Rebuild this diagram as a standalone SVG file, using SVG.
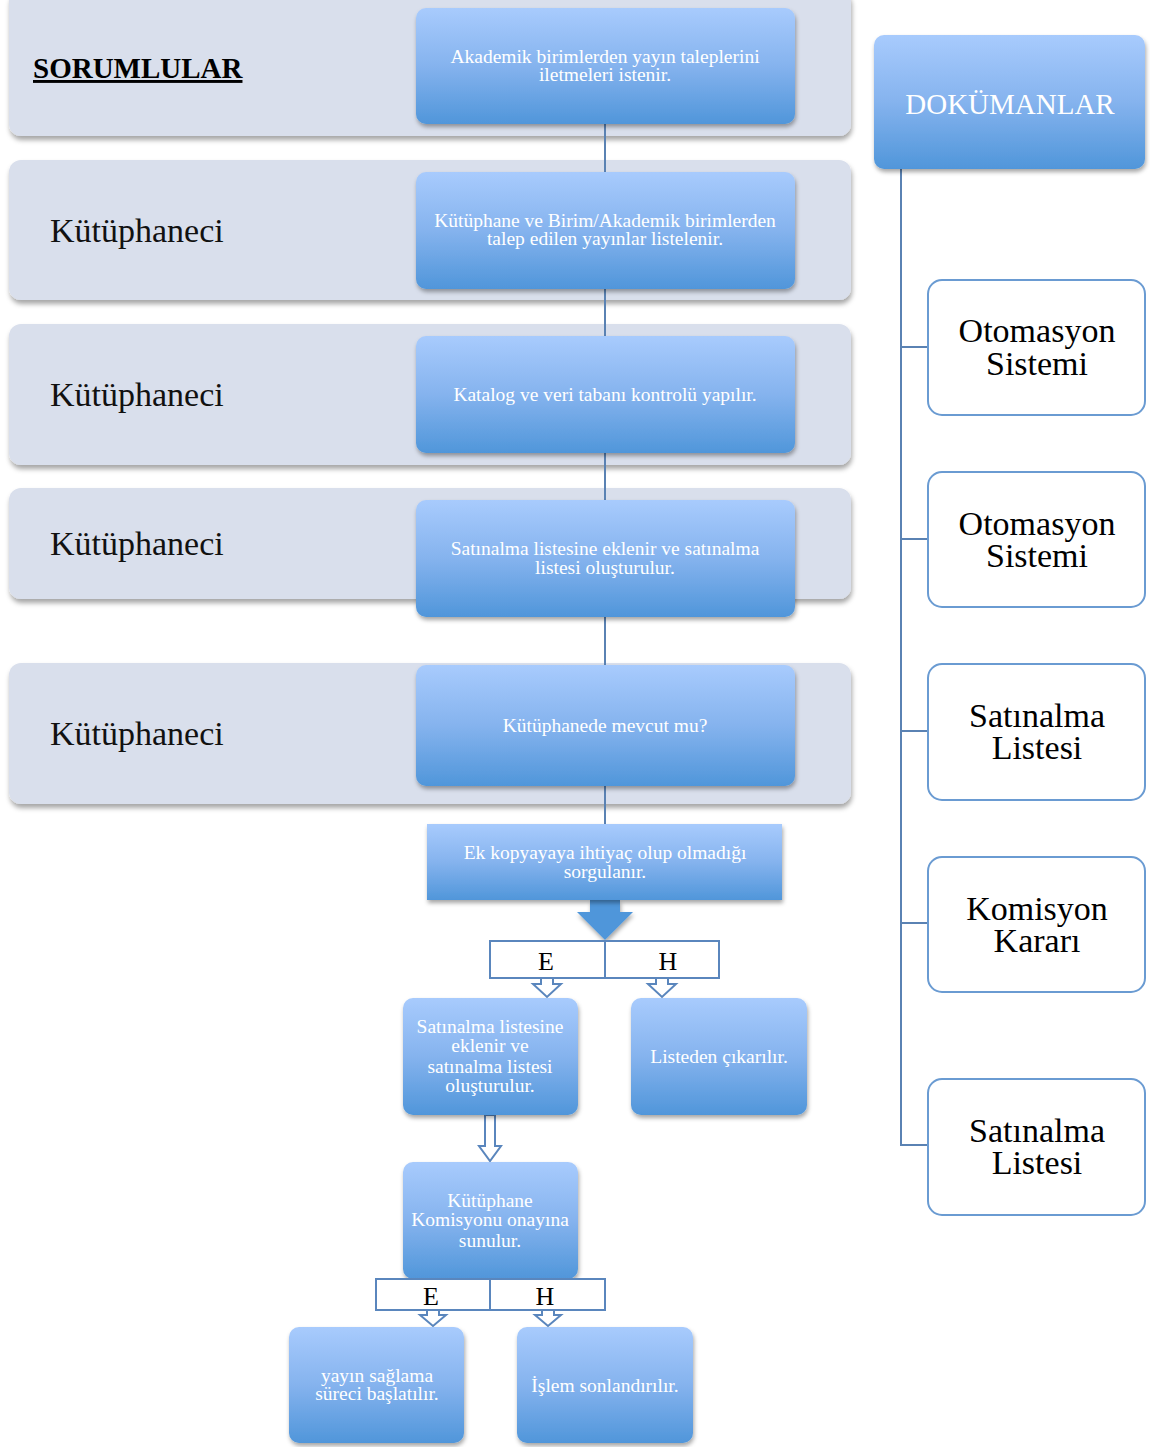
<svg xmlns="http://www.w3.org/2000/svg" width="1150" height="1447" viewBox="0 0 1150 1447">
<defs>
<linearGradient id="blue" x1="0" y1="0" x2="0" y2="1">
<stop offset="0" stop-color="#a8cbfd"/>
<stop offset="0.5" stop-color="#85b3ee"/>
<stop offset="1" stop-color="#5096da"/>
</linearGradient>
<filter id="sh" x="-10%" y="-10%" width="120%" height="130%">
<feDropShadow dx="1" dy="4" stdDeviation="2.5" flood-color="#000" flood-opacity="0.35"/>
</filter>
<filter id="sh2" x="-10%" y="-10%" width="120%" height="130%">
<feDropShadow dx="1" dy="3" stdDeviation="2" flood-color="#000" flood-opacity="0.35"/>
</filter>
<style>
.lane{fill:#d9dfec;filter:url(#sh)}
.bx{fill:url(#blue);filter:url(#sh2)}
.wt{font-family:"Liberation Serif","DejaVu Serif",serif;fill:#fff;font-size:19.5px;text-anchor:middle}
.lbl{font-family:"Liberation Serif","DejaVu Serif",serif;fill:#111;font-size:34px}
.doc{fill:#fff;stroke:#6a9bd2;stroke-width:2}
.dt{font-family:"Liberation Serif","DejaVu Serif",serif;fill:#000;font-size:34px;text-anchor:middle}
.eh{fill:#fff;stroke:#5a86bd;stroke-width:2}
.eht{font-family:"Liberation Serif","DejaVu Serif",serif;fill:#000;font-size:26px;text-anchor:middle}
.ln{stroke:#5a82b3;stroke-width:2;fill:none}
.ha{fill:#fff;stroke:#5a86bd;stroke-width:2;stroke-linejoin:miter}
</style>
</defs>
<rect width="1150" height="1447" fill="#fff"/>

<g id="lanes">
<rect id="lane1" class="lane" x="9" y="-10" width="842" height="146" rx="12"/>
<rect id="lane2" class="lane" x="9" y="160" width="842" height="140" rx="12"/>
<rect id="lane3" class="lane" x="9" y="324" width="842" height="141" rx="12"/>
<rect id="lane4" class="lane" x="9" y="488" width="842" height="111" rx="12"/>
<rect id="lane5" class="lane" x="9" y="663" width="842" height="141" rx="12"/>
</g>

<g id="connectors">
<line class="ln" x1="605" y1="124" x2="605" y2="824"/>
<line class="ln" x1="901" y1="169" x2="901" y2="1146"/>
<line class="ln" x1="900" y1="347" x2="928" y2="347"/>
<line class="ln" x1="900" y1="539" x2="928" y2="539"/>
<line class="ln" x1="900" y1="731" x2="928" y2="731"/>
<line class="ln" x1="900" y1="923" x2="928" y2="923"/>
<line class="ln" x1="900" y1="1145" x2="928" y2="1145"/>
<polygon id="bigArrow" points="590,900 620,900 620,912 633,912 605,940 577,912 590,912" fill="#5096da" filter="url(#sh2)"/>
<polygon class="ha" points="541,978 553,978 553,984 561,984 547,997 533,984 541,984"/>
<polygon class="ha" points="656,978 668,978 668,984 676,984 662,997 648,984 656,984"/>
<polygon class="ha" points="485,1115 495,1115 495,1146 501,1146 490,1161 479,1146 485,1146"/>
<polygon class="ha" points="427,1310 439,1310 439,1315 446,1315 433,1326 420,1315 427,1315"/>
<polygon class="ha" points="542,1310 554,1310 554,1315 561,1315 548,1326 535,1315 542,1315"/>
</g>

<g id="sorumlular">
<text x="33" y="78" font-family="Liberation Serif,DejaVu Serif,serif" font-size="29" font-weight="bold" text-decoration="underline" fill="#000">SORUMLULAR</text>
</g>
<g id="lbl2"><text class="lbl" x="50" y="242">Kütüphaneci</text></g>
<g id="lbl3"><text class="lbl" x="50" y="406">Kütüphaneci</text></g>
<g id="lbl4"><text class="lbl" x="50" y="555">Kütüphaneci</text></g>
<g id="lbl5"><text class="lbl" x="50" y="745">Kütüphaneci</text></g>

<g id="b1"><rect class="bx" x="416" y="8" width="379" height="116" rx="10"/>
<text class="wt" x="605" y="63">Akademik birimlerden yayın taleplerini</text>
<text class="wt" x="605" y="81">iletmeleri istenir.</text></g>
<g id="b2"><rect class="bx" x="416" y="172" width="379" height="117" rx="10"/>
<text class="wt" x="605" y="227">Kütüphane ve Birim/Akademik birimlerden</text>
<text class="wt" x="605" y="245">talep edilen yayınlar listelenir.</text></g>
<g id="b3"><rect class="bx" x="416" y="336" width="379" height="117" rx="10"/>
<text class="wt" x="605" y="401">Katalog ve veri tabanı kontrolü yapılır.</text></g>
<g id="b4"><rect class="bx" x="416" y="500" width="379" height="117" rx="10"/>
<text class="wt" x="605" y="555">Satınalma listesine eklenir ve satınalma</text>
<text class="wt" x="605" y="574">listesi oluşturulur.</text></g>
<g id="b5"><rect class="bx" x="416" y="665" width="379" height="121" rx="10"/>
<text class="wt" x="605" y="732">Kütüphanede mevcut mu?</text></g>
<g id="b6"><rect class="bx" x="427" y="824" width="355" height="76"/>
<text class="wt" x="605" y="859">Ek kopyayaya ihtiyaç olup olmadığı</text>
<text class="wt" x="605" y="878">sorgulanır.</text></g>

<g id="eh1">
<rect class="eh" x="490" y="941" width="229" height="37"/>
<line class="eh" x1="605" y1="941" x2="605" y2="978"/>
<text class="eht" x="546" y="970">E</text>
<text class="eht" x="668" y="970">H</text>
</g>

<g id="b7"><rect class="bx" x="403" y="998" width="175" height="117" rx="10"/>
<text class="wt" x="490" y="1033">Satınalma listesine</text>
<text class="wt" x="490" y="1052">eklenir ve</text>
<text class="wt" x="490" y="1073">satınalma listesi</text>
<text class="wt" x="490" y="1092">oluşturulur.</text></g>
<g id="b8"><rect class="bx" x="631" y="998" width="176" height="117" rx="10"/>
<text class="wt" x="719" y="1063">Listeden çıkarılır.</text></g>
<g id="b9"><rect class="bx" x="403" y="1162" width="175" height="117" rx="10"/>
<text class="wt" x="490" y="1207">Kütüphane</text>
<text class="wt" x="490" y="1226">Komisyonu onayına</text>
<text class="wt" x="490" y="1247">sunulur.</text></g>

<g id="eh2">
<rect class="eh" x="376" y="1279" width="229" height="31"/>
<line class="eh" x1="490" y1="1279" x2="490" y2="1310"/>
<text class="eht" x="431" y="1305">E</text>
<text class="eht" x="545" y="1305">H</text>
</g>

<g id="b10"><rect class="bx" x="289" y="1327" width="175" height="116" rx="10"/>
<text class="wt" x="377" y="1382">yayın sağlama</text>
<text class="wt" x="377" y="1400">süreci başlatılır.</text></g>
<g id="b11"><rect class="bx" x="517" y="1327" width="176" height="116" rx="10"/>
<text class="wt" x="605" y="1392">İşlem sonlandırılır.</text></g>

<g id="doks"><rect class="bx" x="874" y="35" width="271" height="134" rx="10"/>
<text x="1010" y="114" font-family="Liberation Serif,DejaVu Serif,serif" font-size="29" fill="#fff" text-anchor="middle">DOKÜMANLAR</text></g>

<g id="d1"><rect class="doc" x="928" y="280" width="217" height="135" rx="14"/>
<text class="dt" x="1037" y="342">Otomasyon</text><text class="dt" x="1037" y="375">Sistemi</text></g>
<g id="d2"><rect class="doc" x="928" y="472" width="217" height="135" rx="14"/>
<text class="dt" x="1037" y="535">Otomasyon</text><text class="dt" x="1037" y="567">Sistemi</text></g>
<g id="d3"><rect class="doc" x="928" y="664" width="217" height="136" rx="14"/>
<text class="dt" x="1037" y="727">Satınalma</text><text class="dt" x="1037" y="759">Listesi</text></g>
<g id="d4"><rect class="doc" x="928" y="857" width="217" height="135" rx="14"/>
<text class="dt" x="1037" y="920">Komisyon</text><text class="dt" x="1037" y="952">Kararı</text></g>
<g id="d5"><rect class="doc" x="928" y="1079" width="217" height="136" rx="14"/>
<text class="dt" x="1037" y="1142">Satınalma</text><text class="dt" x="1037" y="1174">Listesi</text></g>
</svg>
